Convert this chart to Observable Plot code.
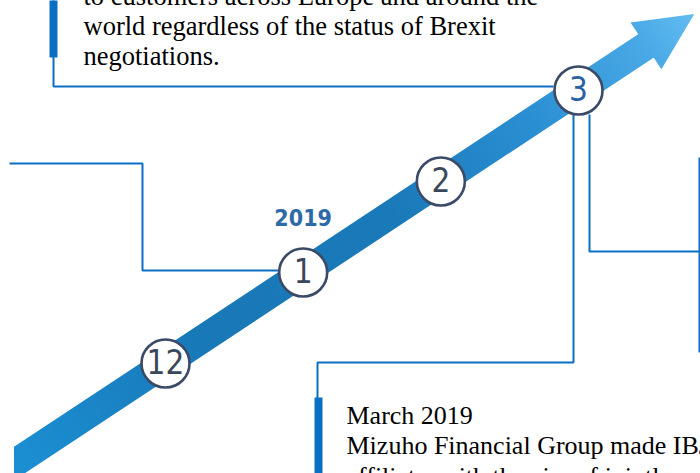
<!DOCTYPE html>
<html><head><meta charset="utf-8">
<script src="https://cdn.jsdelivr.net/npm/d3@7"></script>
<script src="https://cdn.jsdelivr.net/npm/@observablehq/plot@0.6"></script>
<style>html,body{margin:0;padding:0;background:#fff;overflow:hidden}</style>
</head><body><div id="chart"></div>
<script>
// ---- data ----
const monthLabels = ["12", "1", "2", "3"];
const monthSteps = [0, 1, 2, 3];
const yearLabels = ["2019"];
const yearSteps = [1];
const highlightMonth = "3";
const topNote = [
  "to customers across Europe and around the",
  "world regardless of the status of Brexit",
  "negotiations."
];
const bottomNote = [
  "March 2019",
  "Mizuho Financial Group made IBJ Leasing an equity-method",
  "affiliate, with the aim of jointly enhancing their businesses"
];
const timelineSpan = [-1.3, 3.5];
const headStep = 3.49;

// ---- layout ----
const W = 700, H = 473;
const xDomain = [0, 3], xRange = [165, 578];
const yDomain = [0, 3], yRange = [363, 90];
const sx = d3.scaleLinear(xDomain, xRange);
const sy = d3.scaleLinear(yDomain, yRange);
const angle = Math.atan2(sx(1) - sx(0), -(sy(1) - sy(0))) * 180 / Math.PI;

const connectorPaths = [
  [[53, 0], [53, 86], [553, 86]],
  [[9, 163], [142, 163], [142, 270], [278, 270]],
  [[573, 114], [573, 362], [317, 362], [317, 473]],
  [[589, 114], [589, 251], [700, 251]],
  [[699, 157], [699, 352]]
];
const barPaths = [[[53, 0], [53, 57]], [[318, 397], [318, 473]]];
const toPts = (paths) => paths.flatMap((p, i) => p.map(([px, py]) => ({id: i, x: sx.invert(px), y: sy.invert(py)})));

const months = monthLabels.map((label, i) => ({label, t: monthSteps[i]}));
const years = yearLabels.map((label, i) => ({label, t: yearSteps[i]}));
const band = timelineSpan.map(t => ({t}));

const blue = "#0a6fc4";
const serif = "'Liberation Serif', 'Times New Roman', serif";
const narrow = "'DejaVu Sans Condensed', 'Liberation Sans Narrow', Roboto, sans-serif";

const chart = Plot.plot({
  width: W, height: H,
  marginLeft: 14, marginRight: 0, marginTop: 0, marginBottom: 0,
  x: {domain: xDomain, range: xRange, axis: null},
  y: {domain: yDomain, range: yRange, axis: null},
  style: {background: "white"},
  marks: [
    Plot.line(toPts(connectorPaths), {x: "x", y: "y", z: "id", stroke: blue, strokeWidth: 2, strokeLinecap: "butt", strokeLinejoin: "miter"}),
    Plot.line(toPts(barPaths), {x: "x", y: "y", z: "id", stroke: blue, strokeWidth: 8, strokeLinecap: "butt"}),
    Plot.line(band, {x: "t", y: "t", stroke: "url(#bandGrad)", strokeWidth: 28, strokeLinecap: "butt", clip: true}),
    Plot.vector([{t: headStep}], {x: "t", y: "t", length: 58, r: 28, shape: "spike", rotate: angle, anchor: "start", fill: "url(#headGrad)", stroke: "none"}),
    Plot.dot(months, {x: "t", y: "t", r: 24, fill: "white", stroke: "#3b4a66", strokeWidth: 2.6}),
    Plot.text(months, {x: "t", y: "t", text: "label", fontSize: 33, fontFamily: narrow,
      fill: d => d.label === highlightMonth ? "#2b62a6" : "#3b475a"}),
    Plot.text(years, {x: "t", y: "t", text: "label", dy: -54, fontSize: 23, fontWeight: "bold", fontFamily: narrow, fill: "#2e6aa6"}),
    Plot.text([topNote.join("\n")], {text: d => d, frameAnchor: "top-left", dx: 69, dy: -16.5, textAnchor: "start", lineAnchor: "top", lineHeight: 30 / 26.5, fontSize: 26.5, fontFamily: serif, fill: "black"}),
    Plot.text([bottomNote.join("\n")], {text: d => d, frameAnchor: "top-left", dx: 332, dy: 401.5, textAnchor: "start", lineAnchor: "top", lineHeight: 30.5 / 26, fontSize: 26, fontFamily: serif, fill: "black"})
  ]
});

const x1 = sx(-1.1), y1 = sy(-1.1), x2 = sx(headStep), y2 = sy(headStep);
chart.insertAdjacentHTML("afterbegin",
  `<defs><linearGradient id="bandGrad" gradientUnits="userSpaceOnUse" x1="${x1}" y1="${y1}" x2="${x2}" y2="${y2}">
    <stop offset="0" stop-color="#1b8fd2"/>
    <stop offset="0.3" stop-color="#1878b8"/>
    <stop offset="0.6" stop-color="#1a79b9"/>
    <stop offset="0.82" stop-color="#2a8fd2"/>
    <stop offset="1" stop-color="#4aa9e6"/>
  </linearGradient>
  <linearGradient id="headGrad" x1="0" y1="1" x2="0" y2="0">
    <stop offset="0" stop-color="#4aa9e6"/>
    <stop offset="1" stop-color="#62bcf0"/>
  </linearGradient></defs>`);
document.getElementById("chart").append(chart);
</script>
</body></html>
